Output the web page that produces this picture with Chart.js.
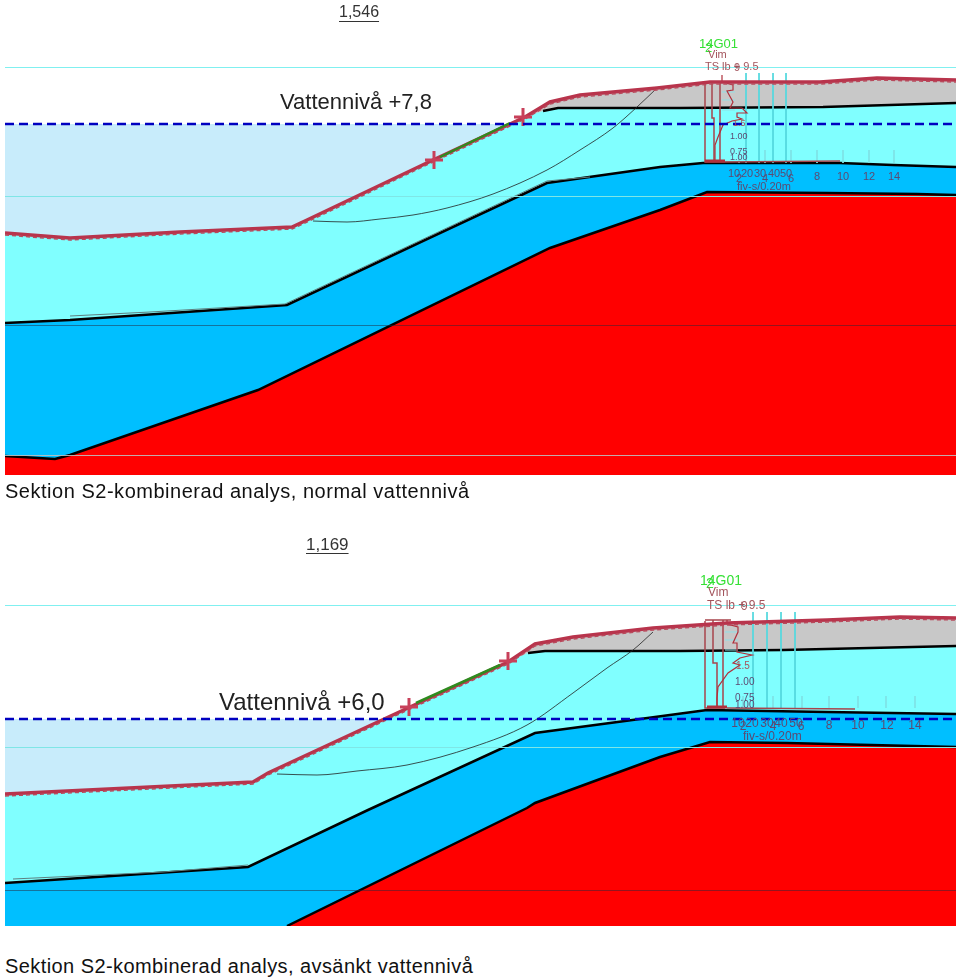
<!DOCTYPE html>
<html>
<head>
<meta charset="utf-8">
<title>Sektion S2</title>
<script src="https://cdn.jsdelivr.net/npm/chart.js@4"></script>
<style>
    html, body { margin: 0; background: #fff; }
    #page { position: relative; width: 960px; height: 980px; overflow: hidden; }
    canvas { position: absolute; left: 5px; }
    #chart-top { top: 0; }
    #chart-bottom { top: 500px; }
    .caption {
        position: absolute; left: 5px; margin: 0; font: 20px "Liberation Sans", sans-serif;
        color: #111; white-space: nowrap; line-height: 22px;
    }
</style>
</head>
<body>
<div id="page">
    <canvas id="chart-top" width="951" height="475"></canvas>
    <canvas id="chart-bottom" width="951" height="426"></canvas>
    <p class="caption" style="top:480px;letter-spacing:.52px">Sektion S2-kombinerad analys, normal vattenniv&aring;</p>
    <p class="caption" style="top:955px;letter-spacing:.42px">Sektion S2-kombinerad analys, avs&auml;nkt vattenniv&aring;</p>
</div>
<script>
// --- Section 1, normal water level ---
const topGround = [[5,233],[70,238],[180,232],[292,227],[307,220],[433,160],[525,117],[550,102],[580,95],[657,88],[710,82],[820,82],[877,78],[956,80]];
const topGreyBase = [[543,111],[558,108],[680,108],[823,107],[956,103]];
const topBlueTop = [[5,323],[70,320],[287,305],[425,240],[547,183],[660,167],[703,163],[840,163],[893,165],[956,167]];
const topBlueEdge = [[70,316],[150,312],[285,304],[547,181],[590,177]];
const topRedTop = [[5,456],[55,459],[70,455],[258,390],[550,248],[660,210],[707,192],[827,193],[917,194],[956,195]];
const topWater = [[5,124],[512,124]];
const topWaterLine = [[5,124],[956,124]];
const topSlip = [[313,221],[347,222],[380,219],[413,215],[447,208],[493,194],[547,170],[580,150],[613,128],[637,107],[657,88]];
const topCrosses = [[434,160],[523,117]];
const topGreen = [[440,157],[510,123]];
const topGridRows = [67,196,325,455];
const topProbeRods = [746,759,773,786];
const topProbeTicks = [739,765,791,817,843,869,894];
const topSounding = [[722,75],[722,82],[733,85],[733,90],[727,91],[733,102],[730,108],[742,108],[747,113],[737,113],[737,117],[742,119],[732,121],[723,125],[718,137],[715,145],[715,162]];
const topCasing = [[705,83],[705,162],[725,162],[720,162],[720,82],[705,82],[729,82],[712,82],[712,118],[714,118],[714,162]];
const topCasingBase = [[705,161],[725,161]];
const topFriction = [[725,162],[840,161]];
const topStubs = [92,100,110];

// --- Section 2, lowered water level ---
const lowGround = [[5,794],[253,782],[268,773],[410,707],[508,662],[535,644],[573,637],[653,628],[727,623],[827,620],[900,617],[956,618]];
const lowGreyBase = [[528,653],[545,651],[680,651],[783,650],[956,646]];
const lowBlueTop = [[5,883],[248,867],[368,810],[535,733],[640,719],[707,710],[827,712],[956,714]];
const lowBlueEdge = [[13,879],[163,872],[248,865]];
const lowRedTop = [[287,926],[527,808],[535,803],[660,757],[710,742],[787,743],[956,747]];
const lowWater = [[5,719],[383,719]];
const lowWaterLine = [[5,719],[956,719]];
const lowSlip = [[277,774],[317,775],[357,771],[407,765],[473,747],[527,725],[573,693],[607,668],[633,650],[653,632]];
const lowCrosses = [[409,707],[508,661]];
const lowGreen = [[416,703],[500,665]];
const lowGridRows = [605,747,890];
const lowProbeRods = [753,767,781,795];
const lowProbeTicks = [743,773,802,829,858,886,915];
const lowSounding = [[727,620],[727,624],[738,627],[738,632],[733,643],[737,643],[737,652],[752,655],[740,658],[733,663],[740,665],[728,673],[718,687],[717,698],[717,708]];
const lowCasing = [[705,621],[705,708],[725,708],[723,708],[723,620],[705,620],[731,620],[713,620],[713,663],[717,663],[717,708]];
const lowCasingBase = [[707,707],[727,707]];
const lowFriction = [[727,708],[855,709]];
const lowStubs = [632,640,650];

// --- Text ---
const topScore = '1,546';
const lowScore = '1,169';
const topLevel = 'Vattennivå +7,8';
const lowLevel = 'Vattennivå +6,0';
const probeName = '14G01';
const probeHead = 'Vim';
const probeSub = 'TS lb + 9.5';
const rodTicks = ['10', '20', '30', '40', '50'];
const depthTicks = ['2', '4', '6', '8', '10', '12', '14'];
const ratioLabels = ['1.5', '1.00', '0.75', '1.00'];
const probeUnit = 'fiv-s/0.20m';

const brown = '#a3545c';
const mauve = '#5c4a72';
const sans = '"Liberation Sans", sans-serif';

// draws text at chart coordinates
const textPlugin = {
    id: 'sectionText',
    afterDatasetsDraw(chart, args, opts) {
        const { ctx, scales: { x, y } } = chart;
        ctx.save();
        ctx.textBaseline = 'middle';
        opts.items.forEach(t => {
            ctx.font = t.font;
            ctx.fillStyle = t.color;
            ctx.textAlign = t.align || 'left';
            ctx.fillText(t.text, x.getPixelForValue(t.x), y.getPixelForValue(t.y));
            if (t.underline) {
                const w = ctx.measureText(t.text).width;
                ctx.fillRect(x.getPixelForValue(t.x), y.getPixelForValue(t.y) + 8, w, 1);
            }
        });
        ctx.restore();
    }
};

function line(data, color, width, extra) {
    return Object.assign({ data, borderColor: color, borderWidth: width, pointRadius: 0, fill: false }, extra);
}

function layer(data, color, floor, edge) {
    return line(data, edge || color, edge ? 2.5 : 0, { backgroundColor: color, fill: { value: floor } });
}

// rods become separate vertical strokes, split by an empty point
function rods(xs, from, to) {
    const pts = [];
    xs.forEach(x => pts.push({ x, y: from }, { x, y: to }, { x, y: null }));
    return pts;
}

// same thing lying down
function stubs(ys, from, to) {
    const pts = [];
    ys.forEach(y => pts.push({ x: from, y }, { x: to, y }, { x: to, y: null }));
    return pts;
}

function drawSection(id, s) {
    const cyanTop = s.ground.filter(p => p[0] < s.greyBase[0][0]).concat(s.greyBase);
    // horizontal reference rows
    const rowLines = s.rows.map((y, i) => line(stubs([y + 0.5], 5, 956), s.rowColors[i], 1.2));
    // listed in paint order, first one lies at the back
    const layers = [
        layer(s.water, '#c8ecfb', s.yMax),
        layer(s.ground, '#c8c8c8', s.yMax),
        layer(cyanTop, '#80ffff', s.yMax),
        layer(s.blueTop, '#00bfff', s.yMax, '#000'),
        line(s.blueEdge, '#5f7f80', 1),
        layer(s.redTop, '#ff0000', s.yMax, '#000'),
        ...rowLines,
        line(s.greyBase, '#000', 2.5),
        line(s.slip, '#222', 0.8, { cubicInterpolationMode: 'monotone' }),
        line(rods(s.rods, s.rodFrom, s.rodTo), '#55d8de', 1),
        line(rods(s.ticks, s.tickFrom, s.rodTo), '#7fe3e6', 1),
        line(stubs(s.stubs, s.stubFrom, s.stubFrom + 13), '#8fdfe6', 1),
        line(s.friction, '#a8444c', 1.5),
        line(s.casing, '#a8444c', 1.5),
        line(s.casingBase, '#b0303c', 3),
        line(s.sounding, '#b0303c', 1.2),
        line(s.ground, '#b8344c', 3.5),
        line(s.ground.map(p => [p[0], p[1] + 2]), '#b84a5c', 1.5, { borderDash: [4, 3] }),
        line(s.green, '#2e8b1e', 2.5),
        line(s.crosses, '#c8405a', 3, { showLine: false, pointStyle: 'cross', pointRadius: 9, pointBorderWidth: 3 }),
        line(s.waterLine, '#0000c0', 2.5, { borderDash: [9, 5] })
    ];
    layers.forEach((d, i) => { d.order = layers.length - i; });

    return new Chart(document.getElementById(id), {
        type: 'line',
        data: { datasets: layers },
        plugins: [textPlugin],
        options: {
            responsive: false,
            animation: false,
            devicePixelRatio: 1,
            events: [],
            layout: { padding: 0, autoPadding: false },
            elements: { line: { tension: 0, capBezierPoints: false } },
            plugins: {
                legend: { display: false },
                tooltip: { enabled: false },
                title: { display: false },
                sectionText: { items: s.text }
            },
            scales: {
                x: { type: 'linear', min: 5, max: 956, display: false },
                y: { type: 'linear', min: s.yMin, max: s.yMax, reverse: true, display: false }
            }
        }
    });
}

drawSection('chart-top', {
    yMin: 0, yMax: 475,
    ground: topGround, greyBase: topGreyBase, blueTop: topBlueTop, blueEdge: topBlueEdge,
    redTop: topRedTop, water: topWater, waterLine: topWaterLine, slip: topSlip,
    crosses: topCrosses, green: topGreen, casing: topCasing, casingBase: topCasingBase,
    friction: topFriction, sounding: topSounding, stubs: topStubs, stubFrom: 722,
    rods: topProbeRods, ticks: topProbeTicks, rodFrom: 73, tickFrom: 150, rodTo: 163,
    rows: topGridRows,
    rowColors: ['#80f0f0', '#7fe6e6', 'rgba(40,40,60,.5)', 'rgba(190,190,190,.9)'],
    text: [
        { text: topScore, x: 339, y: 13, font: '16px ' + sans, color: '#333', underline: true },
        { text: topLevel, x: 280, y: 103, font: '22px ' + sans, color: '#222' },
        { text: probeName, x: 699, y: 44, font: '13px ' + sans, color: '#35e035' },
        { text: '2', x: 705, y: 48, font: '13px ' + sans, color: '#35e035' },
        { text: probeHead, x: 708, y: 55, font: '11px ' + sans, color: brown },
        { text: probeSub, x: 705, y: 67, font: '11px ' + sans, color: brown },
        { text: '9', x: 734, y: 68, font: '11px ' + sans, color: brown },
        { text: ratioLabels[0], x: 733, y: 124, font: '9px ' + sans, color: brown },
        { text: ratioLabels[1], x: 730, y: 137, font: '9px ' + sans, color: mauve },
        { text: ratioLabels[2], x: 730, y: 152, font: '9px ' + sans, color: mauve },
        { text: ratioLabels[3], x: 730, y: 158, font: '9px ' + sans, color: mauve },
        { text: rodTicks[0], x: 734, y: 174, font: '11px ' + sans, color: mauve, align: 'center' },
        { text: rodTicks[1], x: 747, y: 174, font: '11px ' + sans, color: mauve, align: 'center' },
        { text: rodTicks[2], x: 760, y: 174, font: '11px ' + sans, color: mauve, align: 'center' },
        { text: rodTicks[3], x: 774, y: 174, font: '11px ' + sans, color: mauve, align: 'center' },
        { text: rodTicks[4], x: 786, y: 174, font: '11px ' + sans, color: mauve, align: 'center' },
        { text: depthTicks[0], x: 739, y: 179, font: '11px ' + sans, color: mauve, align: 'center' },
        { text: depthTicks[1], x: 765, y: 179, font: '11px ' + sans, color: mauve, align: 'center' },
        { text: depthTicks[2], x: 791, y: 179, font: '11px ' + sans, color: mauve, align: 'center' },
        { text: depthTicks[3], x: 817, y: 177, font: '11px ' + sans, color: mauve, align: 'center' },
        { text: depthTicks[4], x: 843, y: 177, font: '11px ' + sans, color: mauve, align: 'center' },
        { text: depthTicks[5], x: 869, y: 177, font: '11px ' + sans, color: mauve, align: 'center' },
        { text: depthTicks[6], x: 894, y: 177, font: '11px ' + sans, color: mauve, align: 'center' },
        { text: probeUnit, x: 737, y: 187, font: '11px ' + sans, color: mauve }
    ]
});

drawSection('chart-bottom', {
    yMin: 500, yMax: 926,
    ground: lowGround, greyBase: lowGreyBase, blueTop: lowBlueTop, blueEdge: lowBlueEdge,
    redTop: lowRedTop, water: lowWater, waterLine: lowWaterLine, slip: lowSlip,
    crosses: lowCrosses, green: lowGreen, casing: lowCasing, casingBase: lowCasingBase,
    friction: lowFriction, sounding: lowSounding, stubs: lowStubs, stubFrom: 725,
    rods: lowProbeRods, ticks: lowProbeTicks, rodFrom: 612, tickFrom: 696, rodTo: 708,
    rows: lowGridRows,
    rowColors: ['#80f0f0', '#7fe6e6', 'rgba(40,40,60,.5)'],
    text: [
        { text: lowScore, x: 306, y: 545, font: '17px ' + sans, color: '#333', underline: true },
        { text: lowLevel, x: 219, y: 703, font: '24px ' + sans, color: '#222' },
        { text: probeName, x: 700, y: 581, font: '14px ' + sans, color: '#35e035' },
        { text: '2', x: 706, y: 584, font: '14px ' + sans, color: '#35e035' },
        { text: probeHead, x: 708, y: 593, font: '12px ' + sans, color: brown },
        { text: probeSub, x: 707, y: 606, font: '12px ' + sans, color: brown },
        { text: '9', x: 741, y: 607, font: '12px ' + sans, color: brown },
        { text: ratioLabels[0], x: 736, y: 666, font: '10px ' + sans, color: brown },
        { text: ratioLabels[1], x: 735, y: 682, font: '10px ' + sans, color: mauve },
        { text: ratioLabels[2], x: 735, y: 698, font: '10px ' + sans, color: mauve },
        { text: ratioLabels[3], x: 735, y: 705, font: '10px ' + sans, color: mauve },
        { text: rodTicks[0], x: 738, y: 724, font: '12px ' + sans, color: mauve, align: 'center' },
        { text: rodTicks[1], x: 752, y: 724, font: '12px ' + sans, color: mauve, align: 'center' },
        { text: rodTicks[2], x: 767, y: 724, font: '12px ' + sans, color: mauve, align: 'center' },
        { text: rodTicks[3], x: 781, y: 724, font: '12px ' + sans, color: mauve, align: 'center' },
        { text: rodTicks[4], x: 796, y: 724, font: '12px ' + sans, color: mauve, align: 'center' },
        { text: depthTicks[0], x: 743, y: 727, font: '12px ' + sans, color: mauve, align: 'center' },
        { text: depthTicks[1], x: 773, y: 727, font: '12px ' + sans, color: mauve, align: 'center' },
        { text: depthTicks[2], x: 801, y: 727, font: '12px ' + sans, color: mauve, align: 'center' },
        { text: depthTicks[3], x: 829, y: 726, font: '12px ' + sans, color: mauve, align: 'center' },
        { text: depthTicks[4], x: 858, y: 726, font: '12px ' + sans, color: mauve, align: 'center' },
        { text: depthTicks[5], x: 887, y: 726, font: '12px ' + sans, color: mauve, align: 'center' },
        { text: depthTicks[6], x: 915, y: 726, font: '12px ' + sans, color: mauve, align: 'center' },
        { text: probeUnit, x: 743, y: 737, font: '12px ' + sans, color: mauve }
    ]
});
</script>
</body>
</html>
